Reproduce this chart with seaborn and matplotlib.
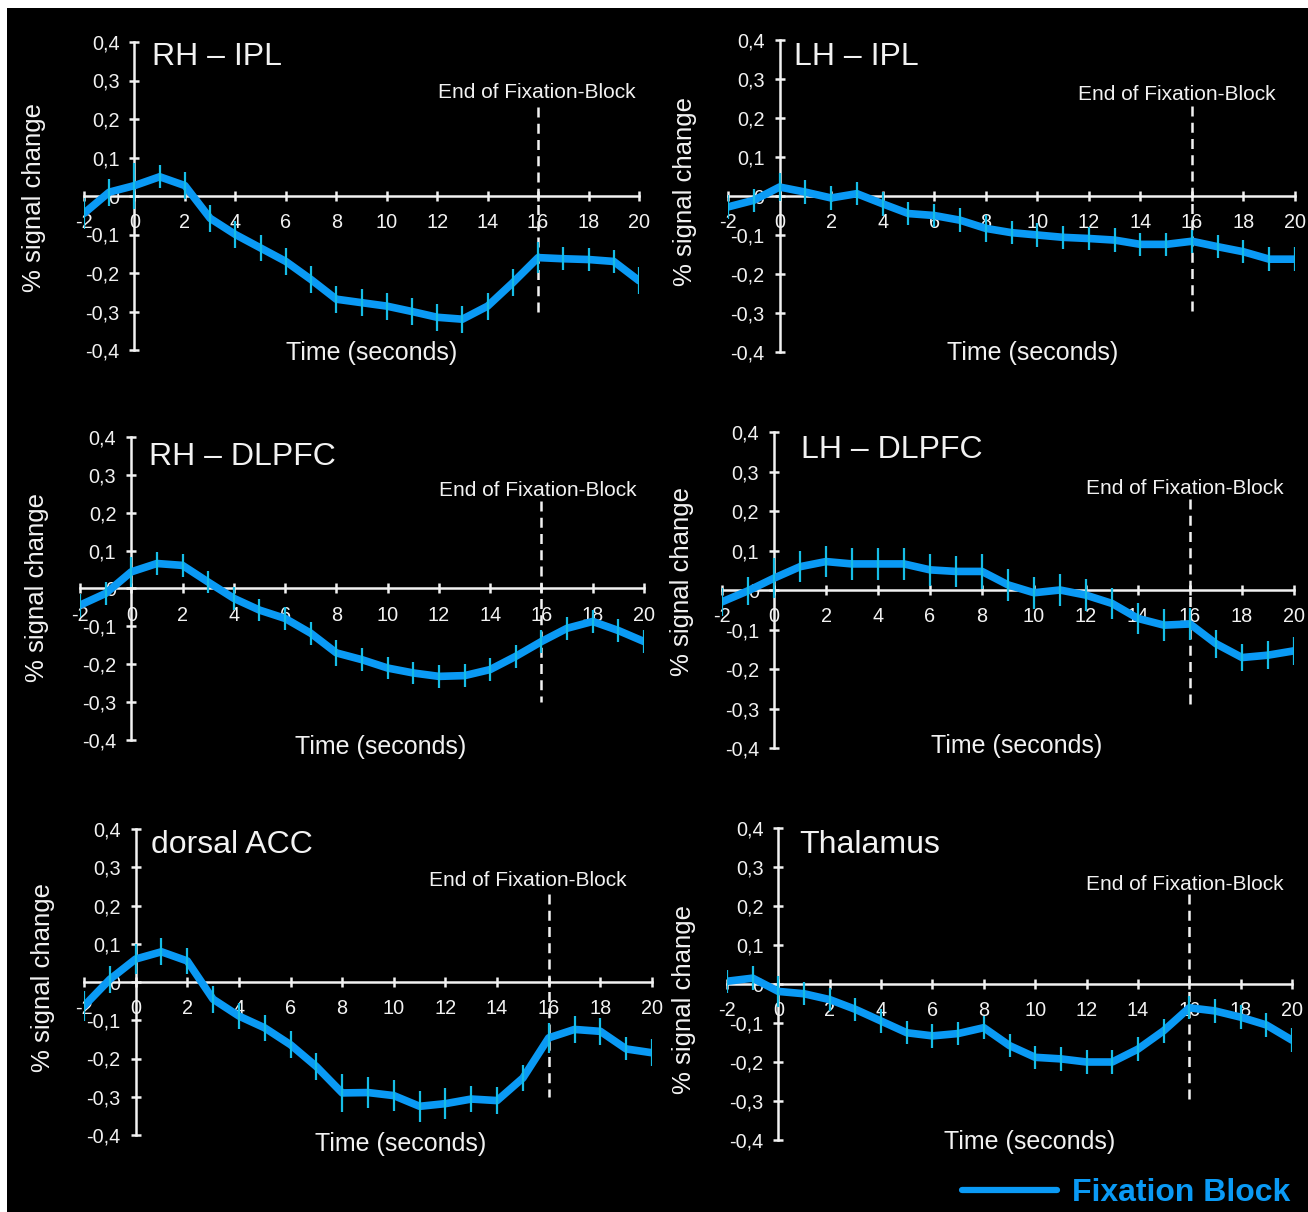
import numpy as np
import pandas as pd
import matplotlib
matplotlib.use("Agg")
import matplotlib.pyplot as plt
from matplotlib.patches import Rectangle
from matplotlib.lines import Line2D
from matplotlib.ticker import FuncFormatter
import seaborn as sns

# ---------------- data ----------------
time_s = list(range(-2, 21))

panel_titles = ["RH \u2013 IPL", "LH \u2013 IPL", "RH \u2013 DLPFC", "LH \u2013 DLPFC",
                "dorsal ACC", "Thalamus"]

rh_ipl = [-0.045, 0.010, 0.027, 0.050, 0.027, -0.058, -0.100, -0.135, -0.170, -0.217,
          -0.268, -0.277, -0.286, -0.300, -0.315, -0.320, -0.286, -0.225, -0.160, -0.163,
          -0.165, -0.170, -0.220]
lh_ipl = [-0.028, -0.011, 0.023, 0.010, -0.005, 0.006, -0.020, -0.045, -0.050, -0.062,
          -0.083, -0.094, -0.100, -0.106, -0.109, -0.113, -0.124, -0.124, -0.116, -0.130,
          -0.143, -0.162, -0.162]
rh_dlpfc = [-0.044, -0.013, 0.044, 0.066, 0.061, 0.017, -0.026, -0.057, -0.079, -0.118,
            -0.170, -0.188, -0.210, -0.223, -0.232, -0.230, -0.214, -0.179, -0.140, -0.105,
            -0.087, -0.111, -0.140]
lh_dlpfc = [-0.030, -0.002, 0.030, 0.059, 0.072, 0.066, 0.066, 0.066, 0.051, 0.047,
            0.047, 0.013, -0.007, 0.000, -0.013, -0.034, -0.072, -0.089, -0.086, -0.136,
            -0.171, -0.165, -0.154]
dorsal_acc = [-0.063, 0.007, 0.060, 0.079, 0.055, -0.045, -0.089, -0.120, -0.164, -0.221,
              -0.290, -0.289, -0.297, -0.325, -0.318, -0.306, -0.310, -0.251, -0.146, -0.124,
              -0.129, -0.175, -0.185]
thalamus = [0.007, 0.015, -0.019, -0.025, -0.040, -0.065, -0.095, -0.125, -0.133, -0.127,
            -0.112, -0.158, -0.188, -0.192, -0.200, -0.200, -0.167, -0.120, -0.061, -0.069,
            -0.085, -0.105, -0.144]

err_rh_ipl = [0.040, 0.035, 0.060, 0.030, 0.035, 0.035, 0.035, 0.035, 0.035, 0.035,
              0.035, 0.035, 0.035, 0.035, 0.035, 0.035, 0.035, 0.035, 0.040, 0.030,
              0.030, 0.030, 0.035]
err_lh_ipl = [0.030, 0.030, 0.035, 0.030, 0.030, 0.030, 0.030, 0.030, 0.030, 0.030,
              0.035, 0.030, 0.030, 0.030, 0.030, 0.030, 0.030, 0.030, 0.030, 0.030,
              0.030, 0.030, 0.030]
err_rh_dlpfc = [0.030, 0.030, 0.040, 0.030, 0.030, 0.030, 0.030, 0.030, 0.030, 0.030,
                0.035, 0.030, 0.030, 0.030, 0.030, 0.030, 0.030, 0.030, 0.030, 0.030,
                0.030, 0.030, 0.030]
err_lh_dlpfc = [0.035, 0.035, 0.050, 0.040, 0.040, 0.040, 0.040, 0.040, 0.040, 0.040,
                0.045, 0.040, 0.040, 0.040, 0.040, 0.040, 0.040, 0.040, 0.040, 0.035,
                0.035, 0.035, 0.035]
err_dorsal_acc = [0.040, 0.035, 0.040, 0.035, 0.035, 0.035, 0.035, 0.035, 0.035, 0.035,
                  0.050, 0.040, 0.040, 0.040, 0.040, 0.035, 0.035, 0.035, 0.040, 0.035,
                  0.035, 0.030, 0.035]
err_thalamus = [0.030, 0.030, 0.040, 0.030, 0.030, 0.030, 0.030, 0.030, 0.030, 0.030,
                0.030, 0.030, 0.030, 0.030, 0.030, 0.030, 0.030, 0.030, 0.030, 0.030,
                0.030, 0.030, 0.030]

x_ticks = list(range(-2, 21, 2))
y_ticks = [-0.4, -0.3, -0.2, -0.1, 0.0, 0.1, 0.2, 0.3, 0.4]
block_end = 16
marker_text = "End of Fixation-Block"
x_label = "Time (seconds)"
y_label = "% signal change"
legend_label = "Fixation Block"

series = [rh_ipl, lh_ipl, rh_dlpfc, lh_dlpfc, dorsal_acc, thalamus]
errors = [err_rh_ipl, err_lh_ipl, err_rh_dlpfc, err_lh_dlpfc, err_dorsal_acc, err_thalamus]

# ---------------- style ----------------
sns.set_style("dark", {"axes.facecolor": "black", "figure.facecolor": "white"})
plt.rcParams["font.family"] = ["Liberation Sans", "DejaVu Sans"]

W, H = 1308, 1212
LINE = "#0a9af5"
ERR = "#16bde6"
FG = "#f2f2f2"

fig = plt.figure(figsize=(W / 100, H / 100), dpi=100)
fig.patch.set_facecolor("white")
fig.patches.append(Rectangle((7 / W, 0), 1 - 7 / W, 1 - 8 / H, transform=fig.transFigure,
                             facecolor="black", edgecolor="none", zorder=-10))

# layout in pixels: panel box (left, right, top, bottom)
boxes = [(84, 639, 42, 350), (728, 1295, 40, 352),
         (80, 644, 437, 740), (722, 1294, 432, 748),
         (84, 652, 829, 1135), (727, 1292, 828, 1140)]
title_dx = [18, 14, 18, 27, 15, 21]          # pixels right of the y-axis
title_y = [57, 57, 457, 450, 845, 845]
marker_pos = [(537, 92), (1177, 95), (538, 490), (1185, 489), (528, 881), (1185, 884)]
xlabel_pos = [(372, 353), (1033, 353), (381, 747), (1017, 746), (401, 1144), (1030, 1142)]
ylabel_pos = [(34, 197), (685, 191), (37, 587), (682, 582), (43, 978), (684, 1000)]


def px(x, y):
    return x / W, 1 - y / H


def yfmt(v, pos):
    if abs(v) < 1e-9:
        return "0"
    return f"{v:.1f}".replace(".", ",")


def xfmt(v, pos):
    return f"{int(round(v))}"


for i, (l, r, t, b) in enumerate(boxes):
    ax = fig.add_axes([l / W, 1 - b / H, (r - l) / W, (b - t) / H])
    ax.set_facecolor("none")
    df = pd.DataFrame({"time": time_s, "signal": series[i]})
    sns.lineplot(data=df, x="time", y="signal", ax=ax, color=LINE, linewidth=5.5,
                 solid_capstyle="round", zorder=3)
    ax.errorbar(time_s, series[i], yerr=errors[i], fmt="none", ecolor=ERR,
                elinewidth=1.6, capsize=0, zorder=4)
    ax.plot([block_end, block_end], [0.23, -0.30], color=FG, linestyle=(0, (4, 2.5)),
            linewidth=1.8, zorder=2)

    ax.set_xlim(-2, 20)
    ax.set_ylim(-0.4, 0.4)
    for side in ["top", "right"]:
        ax.spines[side].set_visible(False)
    ax.spines["left"].set_position(("data", 0))
    ax.spines["bottom"].set_position(("data", 0))
    for side in ["left", "bottom"]:
        ax.spines[side].set_color(FG)
        ax.spines[side].set_linewidth(1.8)
    ax.set_xticks(x_ticks)
    ax.set_yticks(y_ticks)
    ax.xaxis.set_major_formatter(FuncFormatter(xfmt))
    ax.yaxis.set_major_formatter(FuncFormatter(yfmt))
    ax.tick_params(axis="both", which="major", bottom=True, left=True,
                   direction="inout", length=7.5, width=1.8, colors=FG,
                   labelsize=14.3, labelcolor=FG)
    ax.tick_params(axis="x", pad=8.5)
    ax.tick_params(axis="y", pad=7)
    ax.grid(False)
    ax.set_xlabel("")
    ax.set_ylabel("")

    # y-axis pixel position (data x = 0)
    yaxis_px = l + (r - l) * 2 / 22
    fig.text(*px(yaxis_px + title_dx[i], title_y[i]), panel_titles[i],
             fontsize=23, color=FG, ha="left", va="center")
    fig.text(*px(*marker_pos[i]), marker_text, fontsize=15, color=FG,
             ha="center", va="center")
    fig.text(*px(*xlabel_pos[i]), x_label, fontsize=18, color=FG,
             ha="center", va="center")
    fig.text(*px(*ylabel_pos[i]), y_label, fontsize=18.5, color=FG,
             rotation=90, ha="center", va="center")

handle = Line2D([0], [0], color=LINE, linewidth=4.5)
fig.legend(handles=[handle], labels=[legend_label], loc="center right",
           bbox_to_anchor=(1290 / W, 1 - 1193 / H), frameon=False,
           prop={"size": 23, "weight": "bold"}, labelcolor=LINE,
           handlelength=3.0, handletextpad=0.45, borderaxespad=0, borderpad=0)

fig.savefig("out.png", dpi=100, facecolor=fig.get_facecolor())
